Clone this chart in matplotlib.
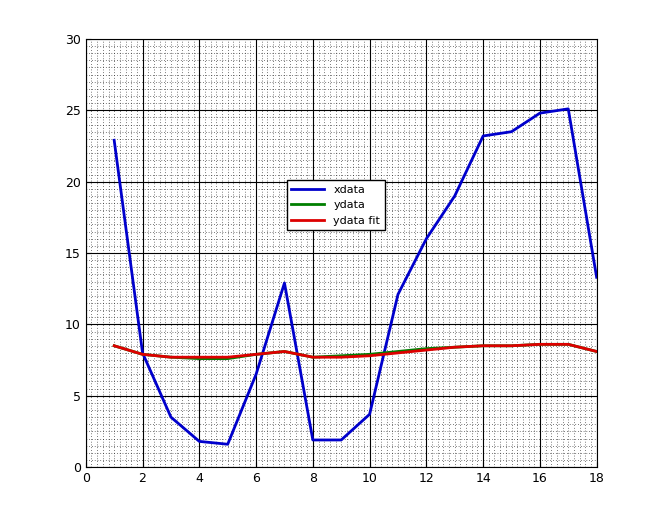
import matplotlib
matplotlib.use("Agg")
import matplotlib.pyplot as plt
from matplotlib.ticker import MultipleLocator

x = list(range(1, 19))
xdata = [22.9, 8.0, 3.5, 1.8, 1.6, 6.5, 12.9, 1.9, 1.9, 3.7, 12.1, 16.0, 19.0, 23.2, 23.5, 24.8, 25.1, 13.3]
ydata = [8.5, 7.9, 7.7, 7.6, 7.6, 7.9, 8.1, 7.7, 7.8, 7.9, 8.1, 8.3, 8.4, 8.5, 8.5, 8.6, 8.6, 8.1]
yfit = [8.5, 7.9, 7.7, 7.7, 7.7, 7.9, 8.1, 7.7, 7.7, 7.8, 8.0, 8.2, 8.4, 8.5, 8.5, 8.6, 8.6, 8.1]

fig = plt.figure(figsize=(6.6, 5.26), dpi=100)
ax = fig.add_axes([0.130, 0.112, 0.774, 0.814])
ax.plot(x, xdata, color='#0000cc', lw=2, label='xdata')
ax.plot(x, ydata, color='#007f00', lw=2, label='ydata')
ax.plot(x, yfit, color='#dd0000', lw=2, label='ydata fit')
ax.set_xlim(0, 18)
ax.set_ylim(0, 30)
ax.xaxis.set_major_locator(MultipleLocator(2))
ax.yaxis.set_major_locator(MultipleLocator(5))
ax.xaxis.set_minor_locator(MultipleLocator(0.2))
ax.yaxis.set_minor_locator(MultipleLocator(0.5))
ax.grid(which='major', color='black', lw=0.8, ls='-')
ax.grid(which='minor', color='black', lw=0.5, ls=(0, (1, 3)))
ax.tick_params(which='minor', length=0)
ax.tick_params(which='major', direction='in', labelsize=9)
ax.set_axisbelow(True)
leg = ax.legend(loc='upper left', bbox_to_anchor=(0.393, 0.67), fontsize=8,
                fancybox=False, framealpha=1, edgecolor='black', borderaxespad=0,
                handlelength=3)
fig.savefig('out.png', dpi=100)
